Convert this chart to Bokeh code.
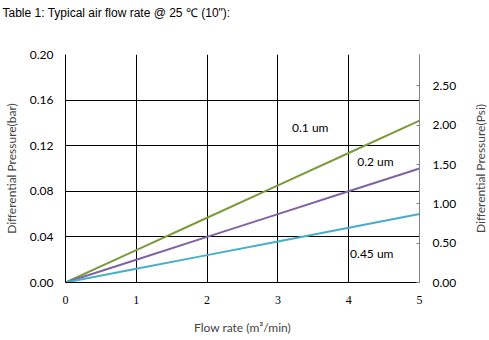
import math
from bokeh.plotting import figure
from bokeh.layouts import row
from bokeh.models import Range1d, LinearAxis, Label, FixedTicker, NumeralTickFormatter, Title
from bokeh.embed import file_html
from bokeh.resources import INLINE

title_text = 'Table 1: Typical air flow rate @ 25 \u2103 (10"):'
flow = [0, 1, 2, 3, 4, 5]
dp_01 = [0, 0.0284, 0.0568, 0.0852, 0.1136, 0.142]
dp_02 = [0, 0.020, 0.040, 0.060, 0.080, 0.100]
dp_045 = [0, 0.012, 0.024, 0.036, 0.048, 0.060]
series_names = ["0.1 um", "0.2 um", "0.45 um"]
label_pos = [(3.2, 0.136), (4.12, 0.1061), (4.02, 0.0254)]
colors = ["#7a9a3c", "#7f62a4", "#45aecb"]
bar_ticks = [0, 0.04, 0.08, 0.12, 0.16, 0.20]
psi_ticks = [0, 0.5, 1.0, 1.5, 2.0, 2.5]
psi_per_bar = 14.5038

p = figure(width=469, height=340, x_range=Range1d(0, 5), y_range=Range1d(0, 0.2),
           output_backend="svg", toolbar_location=None,
           min_border_left=65, min_border_right=50, min_border_top=54, min_border_bottom=58)
p.outline_line_color = None
p.background_fill_color = "white"
p.border_fill_color = "white"

# spacer title (closest to the frame) then the real title above it
p.add_layout(Title(text=" ", standoff=17, text_font="Liberation Sans", text_font_size="12px",
                   text_color="white"), "above")
p.add_layout(Title(text=title_text, align="left", offset=-63, standoff=4, text_font="Liberation Sans",
                   text_font_size="12px", text_font_style="normal", text_color="black"), "above")

p.extra_y_ranges = {"psi": Range1d(0, 0.2 * psi_per_bar)}

p.xaxis.ticker = FixedTicker(ticks=flow)
p.yaxis.ticker = FixedTicker(ticks=bar_ticks)
p.yaxis.formatter = NumeralTickFormatter(format="0.00")

for ax in [p.xaxis[0], p.yaxis[0]]:
    ax.major_tick_line_color = None
    ax.minor_tick_line_color = None
    ax.major_tick_in = 0
    ax.major_tick_out = 0
    ax.minor_tick_in = 0
    ax.minor_tick_out = 0
    ax.axis_line_color = "black"
    ax.major_label_text_font_size = "12px"
    ax.major_label_text_color = "black"
    ax.axis_label_text_font_size = "12px"
    ax.axis_label_text_font_style = "normal"
    ax.axis_label_text_font = "Lato"
    ax.major_label_text_font = "Lato"

p.yaxis.axis_label = "Differential Pressure(bar)"
p.yaxis.major_label_standoff = 12
p.yaxis.axis_label_standoff = 8
p.xaxis.axis_label = "Flow rate (m\u00b3/min)"
p.xaxis.major_label_standoff = 13
p.xaxis.axis_label_standoff = 13
p.xaxis.major_label_text_font = "Liberation Serif"
p.xaxis.major_label_text_font_size = "12px"

ra = LinearAxis(y_range_name="psi", ticker=FixedTicker(ticks=psi_ticks),
                formatter=NumeralTickFormatter(format="0.00"))
ra.axis_line_color = "#808080"
ra.major_tick_line_color = "#808080"
ra.major_tick_in = 3
ra.major_tick_out = 0
ra.minor_tick_line_color = None
ra.minor_tick_in = 0
ra.minor_tick_out = 0
ra.major_label_text_font_size = "12px"
ra.major_label_text_font = "Lato"
ra.major_label_text_color = "black"
ra.major_label_standoff = 13
p.add_layout(ra, "right")

p.xgrid.ticker = FixedTicker(ticks=flow)
p.ygrid.ticker = FixedTicker(ticks=bar_ticks)
p.grid.grid_line_color = "black"
p.grid.grid_line_width = 1

for ys, c in zip([dp_01, dp_02, dp_045], colors):
    p.line(flow, ys, line_color=c, line_width=2)

for name, (lx, ly) in zip(series_names, label_pos):
    p.add_layout(Label(x=lx, y=ly, text=name, text_font="Lato", text_font_size="12px",
                       text_baseline="middle", text_align="left", text_color="black"))

# narrow companion figure carrying the right-hand (psi) axis title, read bottom-to-top
q = figure(width=20, height=340, x_range=Range1d(0, 1), y_range=Range1d(0, 0.2 * psi_per_bar),
           output_backend="svg", toolbar_location=None, x_axis_type=None,
           min_border_left=18, min_border_right=0, min_border_top=54, min_border_bottom=58)
q.outline_line_color = None
q.grid.visible = False
q.background_fill_color = "white"
q.border_fill_color = "white"
q.yaxis.axis_label = "Differential Pressure(Psi)"
q.yaxis.axis_label_standoff = 0
q.yaxis.axis_label_text_font_size = "12px"
q.yaxis.axis_label_text_font_style = "normal"
q.yaxis.axis_label_text_font = "Lato"
q.yaxis.axis_line_color = None
q.yaxis.major_tick_line_color = None
q.yaxis.minor_tick_line_color = None
q.yaxis.major_tick_in = 0
q.yaxis.major_tick_out = 0
q.yaxis.minor_tick_in = 0
q.yaxis.minor_tick_out = 0
q.yaxis.major_label_text_font_size = "0px"
q.yaxis.major_label_standoff = 0
q.yaxis.ticker = FixedTicker(ticks=[])
q.line([0, 1], [0, 0], line_alpha=0)

open("out.html", "w").write(file_html(row(p, q), INLINE))
